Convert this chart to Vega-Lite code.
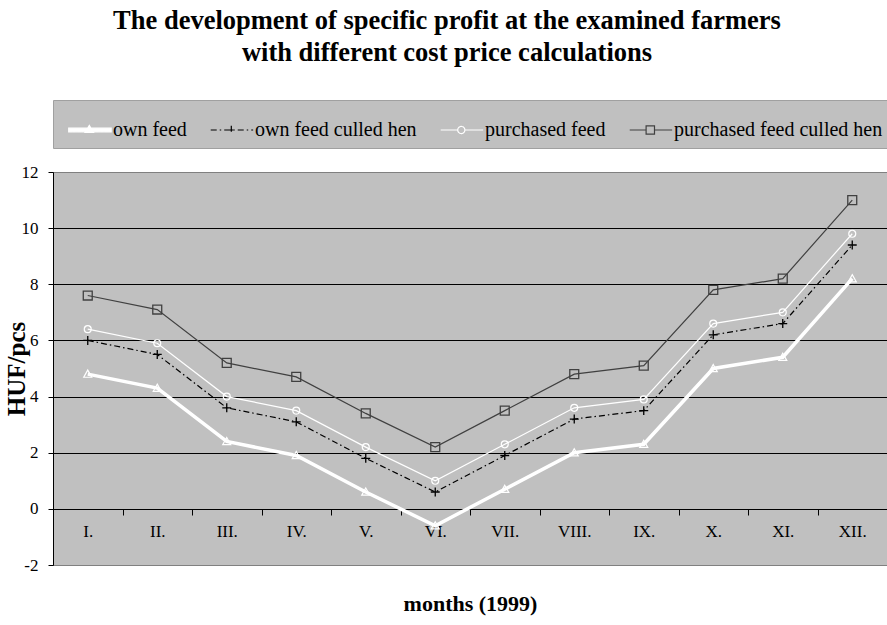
{
  "$schema": "https://vega.github.io/schema/vega-lite/v6.json",
  "width": 834,
  "height": 393,
  "autosize": {"type": "none"},
  "padding": {"left": 53, "top": 172, "right": 0, "bottom": 60},
  "background": "white",
  "title": {
    "text": ["The development of specific profit at the examined farmers", "with different cost price calculations"],
    "font": "Liberation Serif",
    "fontSize": 26.5,
    "fontWeight": "bold",
    "color": "black",
    "lineHeight": 32,
    "anchor": "middle",
    "offset": 33,
    "dx": -23
  },
  "config": {
    "view": {"fill": "#c0c0c0", "stroke": "#808080", "strokeWidth": 1}
  },
  "data": {
    "values": [
      {"month": "I.", "series": "own feed", "value": 4.8},
      {"month": "II.", "series": "own feed", "value": 4.3},
      {"month": "III.", "series": "own feed", "value": 2.4},
      {"month": "IV.", "series": "own feed", "value": 1.9},
      {"month": "V.", "series": "own feed", "value": 0.6},
      {"month": "VI.", "series": "own feed", "value": -0.6},
      {"month": "VII.", "series": "own feed", "value": 0.7},
      {"month": "VIII.", "series": "own feed", "value": 2.0},
      {"month": "IX.", "series": "own feed", "value": 2.3},
      {"month": "X.", "series": "own feed", "value": 5.0},
      {"month": "XI.", "series": "own feed", "value": 5.4},
      {"month": "XII.", "series": "own feed", "value": 8.2},
      {"month": "I.", "series": "own feed culled hen", "value": 6.0},
      {"month": "II.", "series": "own feed culled hen", "value": 5.5},
      {"month": "III.", "series": "own feed culled hen", "value": 3.6},
      {"month": "IV.", "series": "own feed culled hen", "value": 3.1},
      {"month": "V.", "series": "own feed culled hen", "value": 1.8},
      {"month": "VI.", "series": "own feed culled hen", "value": 0.6},
      {"month": "VII.", "series": "own feed culled hen", "value": 1.9},
      {"month": "VIII.", "series": "own feed culled hen", "value": 3.2},
      {"month": "IX.", "series": "own feed culled hen", "value": 3.5},
      {"month": "X.", "series": "own feed culled hen", "value": 6.2},
      {"month": "XI.", "series": "own feed culled hen", "value": 6.6},
      {"month": "XII.", "series": "own feed culled hen", "value": 9.4},
      {"month": "I.", "series": "purchased feed", "value": 6.4},
      {"month": "II.", "series": "purchased feed", "value": 5.9},
      {"month": "III.", "series": "purchased feed", "value": 4.0},
      {"month": "IV.", "series": "purchased feed", "value": 3.5},
      {"month": "V.", "series": "purchased feed", "value": 2.2},
      {"month": "VI.", "series": "purchased feed", "value": 1.0},
      {"month": "VII.", "series": "purchased feed", "value": 2.3},
      {"month": "VIII.", "series": "purchased feed", "value": 3.6},
      {"month": "IX.", "series": "purchased feed", "value": 3.9},
      {"month": "X.", "series": "purchased feed", "value": 6.6},
      {"month": "XI.", "series": "purchased feed", "value": 7.0},
      {"month": "XII.", "series": "purchased feed", "value": 9.8},
      {"month": "I.", "series": "purchased feed culled hen", "value": 7.6},
      {"month": "II.", "series": "purchased feed culled hen", "value": 7.1},
      {"month": "III.", "series": "purchased feed culled hen", "value": 5.2},
      {"month": "IV.", "series": "purchased feed culled hen", "value": 4.7},
      {"month": "V.", "series": "purchased feed culled hen", "value": 3.4},
      {"month": "VI.", "series": "purchased feed culled hen", "value": 2.2},
      {"month": "VII.", "series": "purchased feed culled hen", "value": 3.5},
      {"month": "VIII.", "series": "purchased feed culled hen", "value": 4.8},
      {"month": "IX.", "series": "purchased feed culled hen", "value": 5.1},
      {"month": "X.", "series": "purchased feed culled hen", "value": 7.8},
      {"month": "XI.", "series": "purchased feed culled hen", "value": 8.2},
      {"month": "XII.", "series": "purchased feed culled hen", "value": 11.0}
    ]
  },
  "encoding": {
    "x": {
      "field": "month",
      "type": "nominal",
      "sort": ["I.", "II.", "III.", "IV.", "V.", "VI.", "VII.", "VIII.", "IX.", "X.", "XI.", "XII."],
      "scale": {"type": "band", "paddingInner": 0, "paddingOuter": 0},
      "axis": {
        "offset": -56,
        "tickBand": "extent",
        "labelAngle": 0,
        "domainColor": "black",
        "tickColor": "black",
        "tickSize": 6,
        "labelFont": "Liberation Serif",
        "labelFontSize": 17,
        "labelColor": "black",
        "labelPadding": 8,
        "grid": false,
        "title": "months (1999)",
        "titleFont": "Liberation Serif",
        "titleFontSize": 22,
        "titleFontWeight": "bold",
        "titleColor": "black",
        "titlePadding": 54
      }
    },
    "y": {
      "field": "value",
      "type": "quantitative",
      "scale": {"domain": [-2, 12], "nice": false, "zero": false},
      "axis": {
        "values": [-2, 0, 2, 4, 6, 8, 10, 12],
        "labelExpr": "'' + datum.value",
        "grid": true,
        "gridColor": {"condition": {"test": "datum.value === 12 || datum.value === -2", "value": "#808080"}, "value": "#000000"},
        "gridWidth": 1,
        "domainColor": "black",
        "tickColor": "black",
        "tickSize": 5,
        "labelFont": "Liberation Serif",
        "labelFontSize": 17,
        "labelColor": "black",
        "labelPadding": 10,
        "title": "HUF/pcs",
        "titleFont": "Liberation Serif",
        "titleFontSize": 25,
        "titleFontWeight": "bold",
        "titleColor": "black",
        "titlePadding": -8
      }
    }
  },
  "layer": [
    {
      "transform": [{"filter": "datum.series === 'purchased feed culled hen'"}],
      "mark": {"type": "line", "stroke": "#404040", "strokeWidth": 1.2},
      "encoding": {}
    },
    {
      "transform": [{"filter": "datum.series === 'purchased feed'"}],
      "mark": {"type": "line", "stroke": "#ffffff", "strokeWidth": 1.2},
      "encoding": {}
    },
    {
      "transform": [{"filter": "datum.series === 'own feed culled hen'"}],
      "mark": {"type": "line", "stroke": "#000000", "strokeWidth": 1.2, "strokeDash": [6, 3, 1.5, 3]},
      "encoding": {}
    },
    {
      "transform": [{"filter": "datum.series === 'own feed'"}],
      "mark": {"type": "line", "strokeWidth": 3.5},
      "encoding": {
        "color": {
          "field": "series",
          "type": "nominal",
          "scale": {"domain": ["own feed", "own feed culled hen", "purchased feed", "purchased feed culled hen"], "range": ["#ffffff", "#000000", "#ffffff", "#404040"]},
          "legend": {
            "title": null,
            "orient": "none",
            "legendX": 0,
            "legendY": -72,
            "direction": "horizontal",
            "fillColor": "#c0c0c0",
            "strokeColor": "#a0a0a0",
            "padding": 8,
            "columnPadding": 16,
            "symbolSize": 1764,
            "labelFont": "Liberation Serif",
            "labelFontSize": 20,
            "labelColor": "black",
            "labelOffset": 8,
            "labelLimit": 400,
            "symbolOpacity": 1,
            "encoding": {
              "symbols": {
                "shape": {"value": {"expr": "datum.value === 'own feed' ? 'M-0.68,-0.085H1.34V0.085H-0.68ZM0.3,-0.22L0.5,0.12L0.1,0.12Z' : datum.value === 'own feed culled hen' ? 'M-0.68,0H1.34M0.3,-0.2V0.2M0.1,0H0.5' : datum.value === 'purchased feed' ? 'M-0.68,0H0.13M0.47,0H1.34M0.47,0A0.17,0.17,0,1,1,0.13,0A0.17,0.17,0,1,1,0.47,0' : 'M-0.68,0H0.1M0.5,0H1.34M0.1,-0.2H0.5V0.2H0.1Z'"}},
                "fill": {"value": {"expr": "datum.value === 'own feed' ? '#ffffff' : 'transparent'"}},
                "strokeWidth": {"value": 1.2},
                "strokeDash": {"value": {"expr": "datum.value === 'own feed culled hen' ? [6, 3, 1.5, 3] : [1, 0]"}},
                "size": {"value": 1764},
                "opacity": {"value": 1}
              }
            }
          }
        }
      }
    },
    {
      "transform": [{"filter": "datum.series === 'purchased feed culled hen'"}],
      "mark": {"type": "point", "filled": false, "shape": "M-1,-1H1V1H-1Z", "size": 80, "color": "#404040", "stroke": "#404040", "strokeWidth": 1.3, "opacity": 1},
      "encoding": {}
    },
    {
      "transform": [{"filter": "datum.series === 'purchased feed'"}],
      "mark": {"type": "point", "filled": false, "shape": "M0.78,0A0.78,0.78,0,1,1,-0.78,0A0.78,0.78,0,1,1,0.78,0", "size": 80, "color": "#ffffff", "stroke": "#ffffff", "strokeWidth": 1.2, "opacity": 1},
      "encoding": {}
    },
    {
      "transform": [{"filter": "datum.series === 'own feed culled hen'"}],
      "mark": {"type": "point", "filled": false, "shape": "M-1,0H1M0,-1V1", "size": 80, "color": "#000000", "stroke": "#000000", "strokeWidth": 1.3, "opacity": 1},
      "encoding": {}
    },
    {
      "transform": [{"filter": "datum.series === 'own feed'"}],
      "mark": {"type": "point", "filled": false, "shape": "M0,-0.9L0.9,0.7L-0.9,0.7Z", "size": 80, "color": "#ffffff", "stroke": "#ffffff", "strokeWidth": 1.2, "opacity": 1},
      "encoding": {}
    }
  ]
}
